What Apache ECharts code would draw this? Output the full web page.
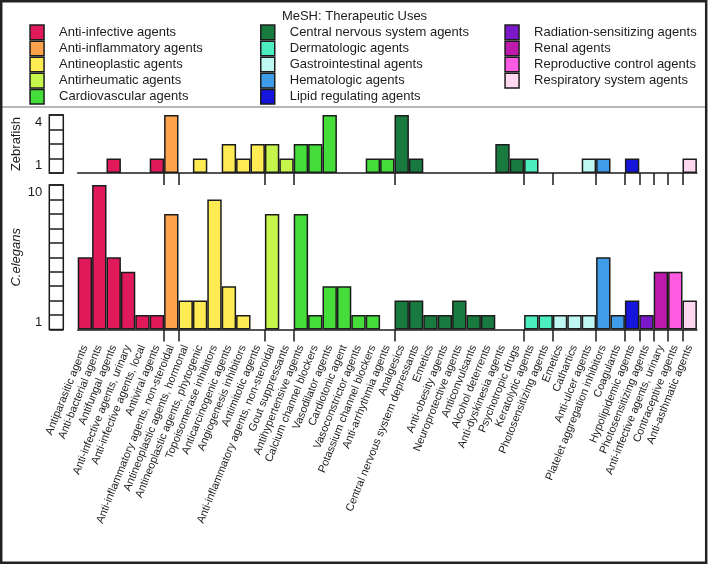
<!DOCTYPE html>
<html>
<head>
<meta charset="utf-8">
<script src="https://cdn.jsdelivr.net/npm/echarts@6/dist/echarts.min.js"></script>
<style>
html, body { margin: 0; padding: 0; background: #fff; }
#chart { width: 709px; height: 565px; }
</style>
</head>
<body>
<div id="chart"></div>
<script>
// MeSH therapeutic use groups (legend order) and their colours
const groupNames = [
    'Anti-infective agents', 'Anti-inflammatory agents', 'Antineoplastic agents',
    'Antirheumatic agents', 'Cardiovascular agents',
    'Central nervous system agents', 'Dermatologic agents', 'Gastrointestinal agents',
    'Hematologic agents', 'Lipid regulating agents',
    'Radiation-sensitizing agents', 'Renal agents', 'Reproductive control agents',
    'Respiratory system agents'
];
const groupColors = [
    '#e01a5a', '#ffa24c', '#ffec55', '#c6f64c', '#44dd3a',
    '#187a3e', '#4cedbe', '#bff7f3', '#3f9ce8', '#1515dc',
    '#7b19c9', '#be1bae', '#ff5ae2', '#fdd8f0'
];

const categories = [
    'Antiparasitic agents', 'Anti-bacterial agents', 'Antifungal agents',
    'Anti-infective agents, urinary', 'Anti-infective agents, local', 'Antiviral agents',
    'Anti-inflammatory agents, non-steroidal',
    'Antineoplastic agents, hormonal', 'Antineoplastic agents, phytogenic',
    'Topoisomerase inhibitors', 'Anticarcinogenic agents', 'Angiogenesis inhibitors',
    'Antimitotic agents',
    'Anti-inflammatory agents, non-steroidal', 'Gout suppressants',
    'Antihypertensive agents', 'Calcium channel blockers', 'Vasodilator agents',
    'Cardiotonic agent', 'Vasoconstrictor agents', 'Potassium channel blockers',
    'Anti-arrhythmia agents',
    'Analgesics', 'Central nervous system depressants', 'Emetics', 'Anti-obesity agents',
    'Neuroprotective agents', 'Anticonvulsants', 'Alcohol deterrents',
    'Anti-dyskinesia agents', 'Psychotropic drugs',
    'Keratolytic agents', 'Photosensitizing agents',
    'Emetics', 'Cathartics', 'Anti-ulcer agents',
    'Platelet aggregation inhibitors', 'Coagulants',
    'Hypolipidemic agents',
    'Photosensitizing agents',
    'Anti-infective agents, urinary',
    'Contraceptive agents',
    'Anti-asthmatic agents'
];
// group index of every category
const categoryGroup = [
    0, 0, 0, 0, 0, 0,
    1,
    2, 2, 2, 2, 2, 2,
    3, 3,
    4, 4, 4, 4, 4, 4, 4,
    5, 5, 5, 5, 5, 5, 5, 5, 5,
    6, 6,
    7, 7, 7,
    8, 8,
    9,
    10,
    11,
    12,
    13
];

const zebrafish = [
    0, 0, 1, 0, 0, 1,
    4,
    0, 1, 0, 2, 1, 2,
    2, 1,
    2, 2, 4, 0, 0, 1, 1,
    4, 1, 0, 0, 0, 0, 0, 2, 1,
    1, 0,
    0, 0, 1,
    1, 0,
    1,
    0,
    0,
    0,
    1
];
const celegans = [
    5, 10, 5, 4, 1, 1,
    8,
    2, 2, 9, 3, 1, 0,
    8, 0,
    8, 1, 3, 3, 1, 1, 0,
    2, 2, 1, 1, 2, 1, 1, 0, 0,
    1, 1,
    1, 1, 1,
    5, 1,
    2,
    1,
    4,
    4,
    2
];

const zebrafishTicks = ['1', '', '', '4'];
const celegansTicks = ['1', '', '', '', '', '', '', '', '', '10'];

const FONT = 'Liberation Sans, Arial, Helvetica, sans-serif';
const INK = '#1c1c1c';

// ticks mark where a new group starts
const groupStarts = [];
categoryGroup.forEach((g, i) => {
    if (i > 0 && g !== categoryGroup[i - 1]) groupStarts.push(i);
});

const plotLeft = 77.7;
const plotWidth = 619.2;

const series = [];
groupNames.forEach((name, g) => {
    const style = { color: groupColors[g], borderColor: INK, borderWidth: 1.5 };
    series.push({
        name: name,
        type: 'bar',
        xAxisIndex: 0,
        yAxisIndex: 0,
        stack: 'zf',
        barWidth: '100%',
        itemStyle: style,
        data: zebrafish.map((v, i) => (categoryGroup[i] === g && v > 0 ? v : '-'))
    });
    series.push({
        name: name,
        type: 'bar',
        xAxisIndex: 1,
        yAxisIndex: 1,
        stack: 'ce',
        barWidth: '100%',
        itemStyle: style,
        data: celegans.map((v, i) => (categoryGroup[i] === g && v > 0 ? v : '-'))
    });
});

function legendBlock(from, to, left) {
    return {
        data: groupNames.slice(from, to),
        orient: 'vertical',
        left: left,
        top: 24.3,
        padding: 0,
        itemWidth: 14,
        itemHeight: 14.6,
        itemGap: 0,
        icon: 'rect',
        selectedMode: false,
        itemStyle: { borderColor: INK, borderWidth: 1.5 },
        textStyle: { fontFamily: FONT, fontSize: 13, color: INK, lineHeight: 14, padding: [0, 0, 0, 10] }
    };
}

function tickAxis(gridIndex) {
    return {
        type: 'value',
        gridIndex: gridIndex,
        position: 'bottom',
        min: 0,
        max: categories.length,
        axisLine: { show: false },
        splitLine: { show: false },
        axisLabel: { show: false },
        axisTick: {
            show: true,
            length: 12,
            customValues: groupStarts,
            lineStyle: { color: INK, width: 1.5 }
        }
    };
}

function scaleAxis(gridIndex, ticks, name, italic) {
    return {
        type: 'category',
        gridIndex: gridIndex,
        data: ticks,
        axisLine: { show: false },
        axisTick: { show: false },
        splitLine: { show: true, interval: 0, lineStyle: { color: INK, width: 1.5 } },
        axisLabel: { interval: 0, fontFamily: FONT, fontSize: 13, color: INK, margin: 7 },
        name: name,
        nameLocation: 'middle',
        nameGap: 26,
        nameRotate: 90,
        nameTextStyle: { fontFamily: FONT, fontSize: 13, color: INK, fontStyle: italic ? 'italic' : 'normal' }
    };
}

const chart = echarts.init(document.getElementById('chart'), null, { renderer: 'canvas' });

chart.setOption({
    animation: false,
    backgroundColor: '#fff',
    title: {
        text: 'MeSH: Therapeutic Uses',
        left: 'center',
        top: 5,
        textStyle: { fontFamily: FONT, fontSize: 13, fontWeight: 'normal', color: INK }
    },
    legend: [
        legendBlock(0, 5, 29.3),
        legendBlock(5, 10, 260),
        legendBlock(10, 14, 504.3)
    ],
    graphic: [
        {
            type: 'line',
            shape: { x1: 2, y1: 107, x2: 706, y2: 107 },
            style: { stroke: '#b8b8b8', lineWidth: 2 }
        },
        {
            type: 'rect',
            shape: { x: 1.2, y: 1.2, width: 705, height: 561.5 },
            style: { fill: null, stroke: '#222', lineWidth: 2.5 }
        }
    ],
    grid: [
        { left: plotLeft, top: 115, width: plotWidth, height: 58 },
        { left: plotLeft, top: 185, width: plotWidth, height: 144.5 },
        { left: 49.3, top: 115, width: 14, height: 58, show: true, borderColor: INK, borderWidth: 1.5, backgroundColor: '#fff' },
        { left: 49.3, top: 185, width: 14, height: 144.5, show: true, borderColor: INK, borderWidth: 1.5, backgroundColor: '#fff' }
    ],
    xAxis: [
        {
            type: 'category',
            gridIndex: 0,
            data: categories,
            position: 'bottom',
            axisLine: { lineStyle: { color: INK, width: 1.5 } },
            axisTick: { show: false },
            axisLabel: { show: false }
        },
        {
            type: 'category',
            gridIndex: 1,
            data: categories,
            position: 'bottom',
            axisLine: { lineStyle: { color: INK, width: 1.5 } },
            axisTick: { show: false },
            axisLabel: {
                interval: 0,
                rotate: 68,
                margin: 16,
                fontFamily: FONT,
                fontSize: 11,
                color: INK
            }
        },
        tickAxis(0),
        tickAxis(1),
        { type: 'value', gridIndex: 2, show: false, min: 0, max: 1 },
        { type: 'value', gridIndex: 3, show: false, min: 0, max: 1 }
    ],
    yAxis: [
        { type: 'value', gridIndex: 0, min: 0, max: 4, show: false },
        { type: 'value', gridIndex: 1, min: 0, max: 10, show: false },
        scaleAxis(2, zebrafishTicks, 'Zebrafish', false),
        scaleAxis(3, celegansTicks, 'C.elegans', true)
    ],
    series: series
});
</script>
</body>
</html>
